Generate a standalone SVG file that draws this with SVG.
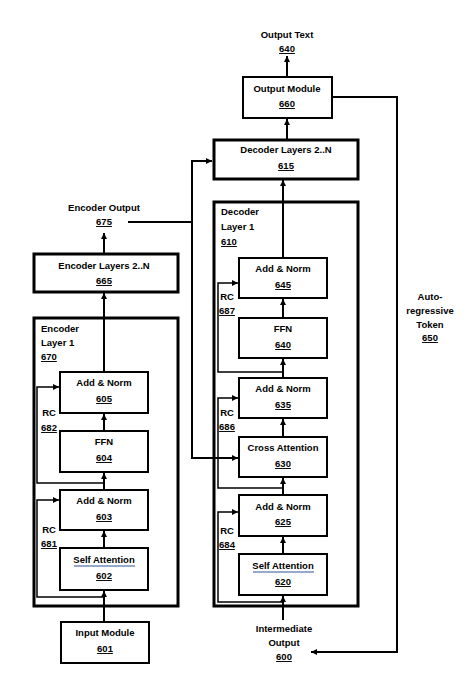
<svg xmlns="http://www.w3.org/2000/svg" width="476" height="686" viewBox="0 0 476 686">
<style>
.box{fill:#fff;stroke:#000;stroke-width:2}
.outer{fill:none;stroke:#000;stroke-width:3}
.t{font-family:"Liberation Sans",Arial,sans-serif;font-weight:bold;font-size:9.5px;text-anchor:middle;fill:#000}
.l{text-anchor:start}
.n{text-decoration:underline}
.ln{fill:none;stroke:#000;stroke-width:2}
.rc{fill:none;stroke:#000;stroke-width:1.5}
</style>
<defs>
<marker id="ah" viewBox="0 0 6 6" markerWidth="6" markerHeight="6" refX="6" refY="3" orient="auto" markerUnits="userSpaceOnUse">
<path d="M0,0 L6,3 L0,6 z" fill="#000"/>
</marker>
</defs>
<rect width="476" height="686" fill="#fff"/>

<g id="connectors">
<!-- encoder main path -->
<line class="ln" x1="104" y1="622" x2="104" y2="591" marker-end="url(#ah)"/>
<line class="ln" x1="104" y1="548" x2="104" y2="531" marker-end="url(#ah)"/>
<line class="ln" x1="104" y1="490" x2="104" y2="473" marker-end="url(#ah)"/>
<line class="ln" x1="104" y1="431" x2="104" y2="414" marker-end="url(#ah)"/>
<line class="ln" x1="104" y1="372" x2="104" y2="293" marker-end="url(#ah)"/>
<line class="ln" x1="104" y1="253" x2="104" y2="233" marker-end="url(#ah)"/>
<!-- encoder RC loops -->
<polyline class="rc" points="104,597 37,597 37,500 59,500" marker-end="url(#ah)"/>
<polyline class="rc" points="104,483 37,483 37,387 59,387" marker-end="url(#ah)"/>
<!-- encoder output to decoder -->
<polyline class="ln" points="128,222 192,222"/>
<polyline class="ln" points="192,458 192,161 212,161" marker-end="url(#ah)"/>
<polyline class="ln" points="192,300 192,458 238,458" marker-end="url(#ah)"/>
<!-- decoder main path -->
<line class="ln" x1="283" y1="620" x2="283" y2="596" marker-end="url(#ah)"/>
<line class="ln" x1="283" y1="554" x2="283" y2="537" marker-end="url(#ah)"/>
<line class="ln" x1="283" y1="495" x2="283" y2="478" marker-end="url(#ah)"/>
<line class="ln" x1="283" y1="437" x2="283" y2="419" marker-end="url(#ah)"/>
<line class="ln" x1="283" y1="378" x2="283" y2="359" marker-end="url(#ah)"/>
<line class="ln" x1="283" y1="318" x2="283" y2="299" marker-end="url(#ah)"/>
<line class="ln" x1="283" y1="258" x2="283" y2="180" marker-end="url(#ah)"/>
<line class="ln" x1="287" y1="139" x2="287" y2="119" marker-end="url(#ah)"/>
<line class="ln" x1="287" y1="77" x2="287" y2="56" marker-end="url(#ah)"/>
<!-- decoder RC loops -->
<polyline class="rc" points="283,602 218,602 218,512 238,512" marker-end="url(#ah)"/>
<polyline class="rc" points="283,488 218,488 218,398 238,398" marker-end="url(#ah)"/>
<polyline class="rc" points="283,372 218,372 218,283 238,283" marker-end="url(#ah)"/>
<!-- autoregressive loop -->
<polyline class="ln" points="332,97 397,97 397,652 311,652" marker-end="url(#ah)"/>
</g>

<g id="encoder-layer-1">
<rect class="outer" x="34" y="318" width="144" height="288"/>
<text class="t l" x="41" y="332">Encoder</text>
<text class="t l" x="41" y="346">Layer 1</text>
<text class="t l n" x="41" y="360">670</text>
</g>
<g id="rc-682"><text class="t" x="49" y="416">RC</text><text class="t n" x="49" y="431">682</text></g>
<g id="rc-681"><text class="t" x="49" y="533">RC</text><text class="t n" x="49" y="547">681</text></g>

<g id="node-605"><rect class="box" x="60" y="372" width="88" height="41"/><text class="t" x="104" y="386">Add &amp; Norm</text><text class="t n" x="104" y="402">605</text></g>
<g id="node-604"><rect class="box" x="60" y="431" width="88" height="41"/><text class="t" x="104" y="445">FFN</text><text class="t n" x="104" y="461">604</text></g>
<g id="node-603"><rect class="box" x="60" y="490" width="88" height="40"/><text class="t" x="104" y="504">Add &amp; Norm</text><text class="t n" x="104" y="520">603</text></g>
<g id="node-602"><rect class="box" x="60" y="548" width="88" height="42"/><text class="t" x="104" y="563">Self Attention</text><line x1="74" y1="566" x2="135" y2="566" stroke="#2f5597" stroke-width="1"/><text class="t n" x="104" y="579">602</text></g>
<g id="node-601"><rect class="box" x="61" y="622" width="88" height="41"/><text class="t" x="105" y="636">Input Module</text><text class="t n" x="105" y="652">601</text></g>

<g id="node-665"><rect class="outer" x="34" y="254" width="144" height="38"/><text class="t" x="104" y="269">Encoder Layers 2..N</text><text class="t n" x="104" y="284">665</text></g>
<g id="node-675"><text class="t" x="104" y="211">Encoder Output</text><text class="t n" x="104" y="225">675</text></g>

<g id="decoder-layer-1">
<rect class="outer" x="214" y="202" width="144" height="404"/>
<text class="t l" x="221" y="215">Decoder</text>
<text class="t l" x="221" y="230">Layer 1</text>
<text class="t l n" x="221" y="245">610</text>
</g>
<g id="rc-687"><text class="t" x="227" y="300">RC</text><text class="t n" x="227" y="314">687</text></g>
<g id="rc-686"><text class="t" x="227" y="416">RC</text><text class="t n" x="227" y="430">686</text></g>
<g id="rc-684"><text class="t" x="227" y="534">RC</text><text class="t n" x="227" y="548">684</text></g>

<g id="node-645"><rect class="box" x="239" y="258" width="88" height="40"/><text class="t" x="283" y="272">Add &amp; Norm</text><text class="t n" x="283" y="288">645</text></g>
<g id="node-640"><rect class="box" x="239" y="318" width="88" height="40"/><text class="t" x="283" y="332">FFN</text><text class="t n" x="283" y="348">640</text></g>
<g id="node-635"><rect class="box" x="239" y="378" width="88" height="40"/><text class="t" x="283" y="392">Add &amp; Norm</text><text class="t n" x="283" y="408">635</text></g>
<g id="node-630"><rect class="box" x="239" y="437" width="88" height="40"/><text class="t" x="283" y="451">Cross Attention</text><text class="t n" x="283" y="467">630</text></g>
<g id="node-625"><rect class="box" x="239" y="495" width="88" height="41"/><text class="t" x="283" y="510">Add &amp; Norm</text><text class="t n" x="283" y="525">625</text></g>
<g id="node-620"><rect class="box" x="239" y="554" width="88" height="41"/><text class="t" x="283" y="569">Self Attention</text><line x1="253" y1="572" x2="314" y2="572" stroke="#2f5597" stroke-width="1"/><text class="t n" x="283" y="585">620</text></g>

<g id="node-615"><rect class="outer" x="214" y="140" width="144" height="39"/><text class="t" x="286" y="153">Decoder Layers 2..N</text><text class="t n" x="286" y="169">615</text></g>
<g id="node-660"><rect class="box" x="243" y="77" width="89" height="41"/><text class="t" x="287" y="92">Output Module</text><text class="t n" x="287" y="107">660</text></g>
<g id="node-output-text"><text class="t" x="287" y="38">Output Text</text><text class="t n" x="287" y="52">640</text></g>
<g id="node-600"><text class="t" x="284" y="632">Intermediate</text><text class="t" x="284" y="646">Output</text><text class="t n" x="284" y="660">600</text></g>
<g id="node-650"><text class="t" x="430" y="300">Auto-</text><text class="t" x="430" y="314">regressive</text><text class="t" x="430" y="328">Token</text><text class="t n" x="430" y="341">650</text></g>
</svg>
